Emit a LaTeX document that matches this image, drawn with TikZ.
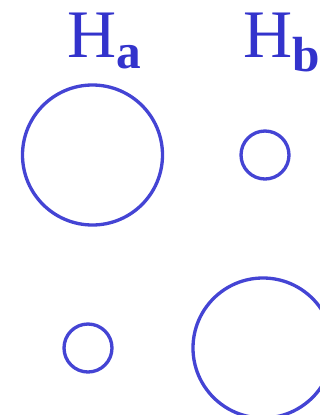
\documentclass[tikz,border=0pt]{standalone}
\usepackage{fontspec}
\setmainfont{Liberation Serif}
\definecolor{labelblue}{RGB}{51,51,204}
\definecolor{ringblue}{RGB}{68,68,212}
\tikzset{
  ring/.style={draw=ringblue,line width=2.5pt},
  hlabel/.style={anchor=base west,inner sep=0pt,text=labelblue}
}
\begin{document}
\begin{tikzpicture}[x=0.75pt,y=-0.75pt] % 1 unit = 1 px

% --------- PARAMETERS ----------
\def\rbig{70}     % big radius
\def\rsmall{24}   % small radius
\def\ytop{155}    % centre row 1
\def\ybot{348}    % centre row 2
% --------------------------------

\useasboundingbox (0,0) rectangle (320,415);

% Labels
\node[hlabel] (ha) at (67,57) {\fontsize{51}{51}\selectfont H\raisebox{-8.5pt}{\fontsize{37}{37}\selectfont\bfseries a}};
\node[hlabel] (hb) at (243,57) {\fontsize{51}{51}\selectfont H\raisebox{-10.5pt}{\fontsize{37}{37}\selectfont\bfseries b}};

% Row 1
\draw[ring] (92.5,\ytop) circle (\rbig);
\draw[ring] (265,\ytop) circle (\rsmall);

% Row 2
\draw[ring] (88,\ybot) circle (\rsmall);
\draw[ring] (263,\ybot) circle (\rbig);

\end{tikzpicture}
\end{document}
